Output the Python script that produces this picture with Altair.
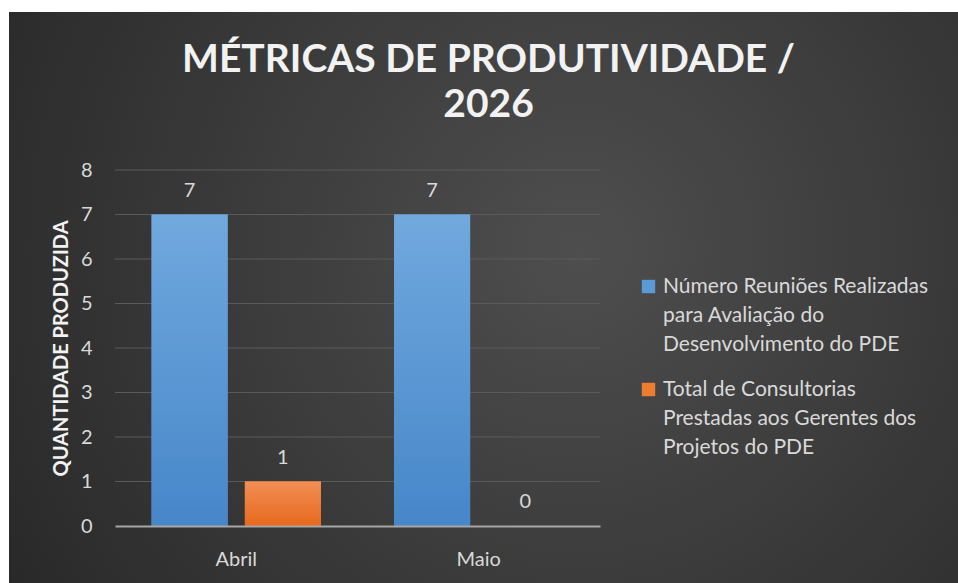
import altair as alt
import pandas as pd

# ---- data ----
meses = ["Abril", "Maio"]
series = [
    "Número Reuniões Realizadas para Avaliação do Desenvolvimento do PDE",
    "Total de Consultorias Prestadas aos Gerentes dos Projetos do PDE",
]
reunioes = [7, 7]
consultorias = [1, 0]
legend_lines = [
    ["Número Reuniões Realizadas", "para Avaliação do", "Desenvolvimento do PDE"],
    ["Total de Consultorias", "Prestadas aos Gerentes dos", "Projetos do PDE"],
]
y_values = [0, 1, 2, 3, 4, 5, 6, 7, 8]
grid_values = [1, 2, 3, 4, 5, 6, 7, 8]
title_lines = ["MÉTRICAS DE PRODUTIVIDADE /", "2026"]
y_title = "QUANTIDADE PRODUZIDA"
colors = ["#5b9bd5", "#ed7d31"]
gradient_stops = [("#71a9de", "#4686c9"), ("#f28e55", "#e7691d")]

rows = []
for i, m in enumerate(meses):
    rows.append({"Mes": m, "Serie": series[0], "Valor": reunioes[i]})
    rows.append({"Mes": m, "Serie": series[1], "Valor": consultorias[i]})
df = pd.DataFrame(rows)
grid_df = pd.DataFrame({"Valor": grid_values})

W, H = 485, 356
PAD = {"left": 115, "top": 170, "right": 958 - 115 - W, "bottom": 583 - 170 - H}

FONT = "Lato"
LABEL = "#d9d9d9"


def js_arr(lines):
    return "[" + ",".join("'" + s + "'" for s in lines) + "]"


label_expr = (
    f"datum.label == '{series[0]}' ? {js_arr(legend_lines[0])} : {js_arr(legend_lines[1])}"
)

y_axis = alt.Axis(
    title=y_title, values=y_values, grid=False, domain=False, ticks=False,
    labelPadding=23, labelFont=FONT, labelFontSize=20, labelColor=LABEL,
    titleFont=FONT, titleFontSize=20, titleFontWeight="bold", titleColor="#f2f2f2",
    titlePadding=9, zindex=1,
)
x_axis = alt.Axis(
    title=None, labelAngle=0, labelFont=FONT, labelFontSize=20, labelColor=LABEL,
    labelPadding=23, ticks=False, domainColor="#a6a6a6", domainWidth=2, zindex=1,
)
y_scale = alt.Scale(domain=[0, 8], nice=False)
x_enc = alt.X("Mes:N", sort=meses, scale=alt.Scale(paddingInner=0, paddingOuter=0), axis=x_axis)
xo_enc = alt.XOffset("Serie:N", sort=series,
                     scale=alt.Scale(paddingInner=0.185, paddingOuter=0.392))
y_enc = alt.Y("Valor:Q", scale=y_scale, axis=y_axis)

legend = alt.Legend(
    title=None, orient="none", legendX=523, legendY=106, labelExpr=label_expr,
    symbolType="square", symbolSize=180, symbolStrokeWidth=0,
    labelFont=FONT, labelFontSize=21, labelColor=LABEL, labelOffset=4,
    labelLimit=400, padding=0, rowPadding=23, labelBaseline="middle",
)

# background panel (decoration)
bg = alt.Chart(pd.DataFrame({"k": [0]})).mark_rect(
    fill=alt.RadialGradient(
        gradient="radial",
        stops=[alt.GradientStop(color="#4e4e4e", offset=0),
               alt.GradientStop(color="#262626", offset=1)],
        x1=0.6, y1=0.45, r1=0, x2=0.6, y2=0.45, r2=0.75,
    )
).encode(x=alt.value(-106), x2=alt.value(843), y=alt.value(-158), y2=alt.value(413))

grid = alt.Chart(grid_df).mark_rule(color="#5a5a5a", strokeWidth=1).encode(y=y_enc)

bars = alt.Chart(df).mark_bar().encode(
    x=x_enc,
    xOffset=xo_enc,
    y=y_enc,
    color=alt.Color("Serie:N", sort=series,
                    scale=alt.Scale(domain=series, range=colors), legend=legend),
)

# gradient-shaded overlay of the same bars, one layer per series
shades = []
for s, (top, bottom) in zip(series, gradient_stops):
    shades.append(
        alt.Chart(df).transform_filter(alt.datum.Serie == s).mark_bar(
            fill=alt.LinearGradient(
                gradient="linear",
                stops=[alt.GradientStop(color=top, offset=0),
                       alt.GradientStop(color=bottom, offset=1)],
                x1=0, x2=0, y1=0, y2=1,
            )
        ).encode(x=x_enc, xOffset=xo_enc, y=y_enc)
    )

labels = alt.Chart(df).mark_text(
    dy=-18, baseline="alphabetic", font=FONT, fontSize=20, color=LABEL
).encode(x=x_enc, xOffset=xo_enc, y=y_enc, text="Valor:Q")

chart = alt.layer(bg, grid, bars, *shades, labels).properties(
    width=W, height=H,
    padding=PAD,
    autosize=alt.AutoSizeParams(type="none"),
    title=alt.TitleParams(
        text=title_lines, font=FONT, fontSize=39, fontWeight="bold", color="#f2f2f2",
        lineHeight=45, anchor="middle", frame="group", dx=131, offset=-113,
    ),
).configure(
    background="white",
    style={"guide-label": {"lineHeight": 29}},
).configure_view(stroke=None)

chart.save("out.html", embed_options={"renderer": "svg", "actions": False})
